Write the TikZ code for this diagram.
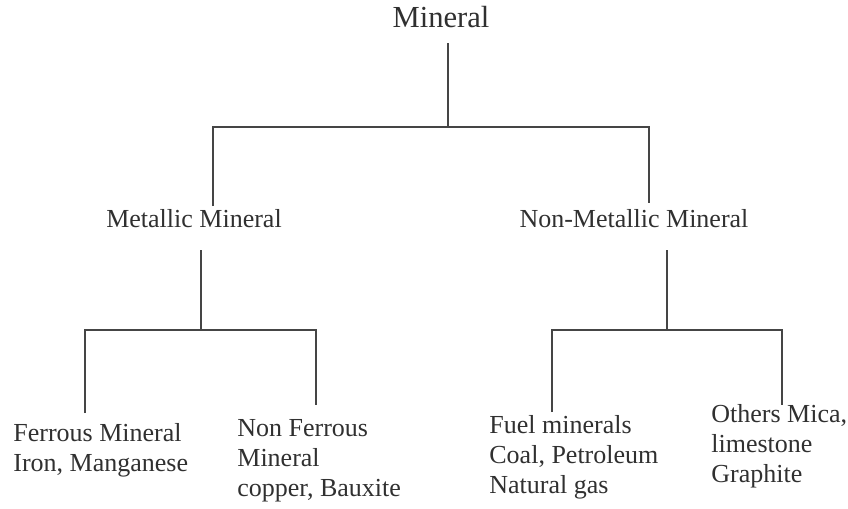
\documentclass[tikz,border=0pt]{standalone}
\usepackage{fontspec}
\setmainfont{Liberation Serif}

\definecolor{inkgray}{HTML}{303030}
\definecolor{linegray}{HTML}{454545}

\tikzset{
    label/.style={text=inkgray, inner sep=0pt, font=\fontsize{13}{15}\selectfont},
    title/.style={label, font=\fontsize{15.3}{18}\selectfont},
    leaf/.style={label, anchor=base west, align=left},
    branch/.style={draw=linegray, line width=1pt},
}

\begin{document}
\begin{tikzpicture}[x=0.5pt, y=-0.5pt]
        \useasboundingbox (0,0) rectangle (848,509);

        % Levels
        \node[title, anchor=base] (mineral) at (441, 27) {Mineral};
        \node[label, anchor=base] (metal) at (194, 227) {Metallic Mineral};
        \node[label, anchor=base] (nonmetal) at (634, 227) {Non-Metallic Mineral};

        % Leaves (base = last line)
        \node[leaf] (ferrous) at (13, 471) {Ferrous Mineral\\Iron, Manganese};
        \node[leaf] (nonferrous) at (237, 496) {Non Ferrous\\Mineral\\copper, Bauxite};
        \node[leaf] (fuel) at (489, 493) {Fuel minerals\\Coal, Petroleum\\Natural gas};
        \node[leaf] (others) at (711, 482) {Others Mica,\\limestone\\Graphite};

        % Line ends
        \coordinate (mineral-out) at (448, 43);
        \coordinate (mineral-fork) at (448, 127);
        \coordinate (metal-in) at (213, 206);
        \coordinate (nonmetal-in) at (649, 203);
        \coordinate (metal-out) at (201, 250);
        \coordinate (metal-fork) at (201, 330);
        \coordinate (nonmetal-out) at (667, 250);
        \coordinate (nonmetal-fork) at (667, 330);
        \coordinate (ferrous-in) at (85, 413);
        \coordinate (nonferrous-in) at (316, 405);
        \coordinate (fuel-in) at (552, 412);
        \coordinate (others-in) at (782, 405);

        % Branches
        \draw[branch] (mineral-out) -- (mineral-fork);
        \draw[branch] (metal-in) |- (mineral-fork) -| (nonmetal-in);
        \draw[branch] (metal-out) -- (metal-fork);
        \draw[branch] (ferrous-in) |- (metal-fork) -| (nonferrous-in);
        \draw[branch] (nonmetal-out) -- (nonmetal-fork);
        \draw[branch] (fuel-in) |- (nonmetal-fork) -| (others-in);
\end{tikzpicture}
\end{document}
